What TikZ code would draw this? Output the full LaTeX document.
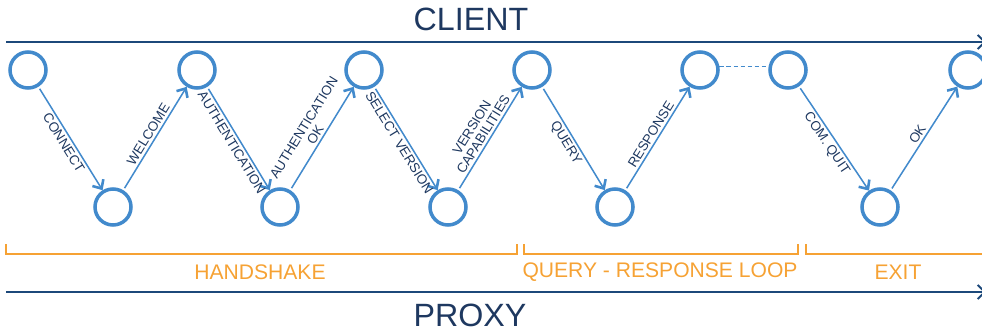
\documentclass[tikz,border=0pt]{standalone}
\usepackage{fontspec}
\setmainfont{Liberation Sans}
\usepackage{xcolor}
\usetikzlibrary{arrows.meta}
\definecolor{figline}{RGB}{28,72,122}
\definecolor{figtext}{RGB}{30,56,96}
\definecolor{figcirc}{RGB}{66,138,204}
\definecolor{figphase}{RGB}{246,162,52}
\tikzset{
  st/.style   ={circle, draw=figcirc, line width=3pt, minimum size=1.08cm, inner sep=0pt},
  msg/.style  ={draw=figcirc, line width=1.3pt, shorten <=2pt, -{Straight Barb[length=6pt,width=11pt,line width=2.2pt]}},
  lab/.style  ={font=\fontsize{11.5}{11.5}\selectfont, text=figtext, sloped, inner sep=2pt, align=center},
  axis/.style ={draw=figline, line width=1.6pt, -{Straight Barb[length=6pt,width=12pt]}},
  brk/.style  ={draw=figphase, line width=1.2pt},
  phase/.style={font=\fontsize{18}{20}\selectfont, text=figphase},
  side/.style ={font=\fontsize{27.5}{30}\selectfont, text=figtext},
  wait/.style ={draw=figcirc, line width=1.2pt, dash pattern=on 4pt off 2pt},
}
\begin{document}
\begin{tikzpicture}[x=0.03cm,y=0.03cm]
  \clip (0,0) rectangle (982,332);
  % client and proxy time lines
  \coordinate (ts) at (6,290);
  \coordinate (te) at (986,290);
  \coordinate (bs) at (6,40);
  \coordinate (be) at (986,40);
  \draw[axis] (ts) -- (te);
  \draw[axis] (bs) -- (be);
  \node[side] (client) at (471,313) {CLIENT};
  \node[side] (proxy) at (470,17) {PROXY};
  % states on the client side
  \node[st] (c1) at (28,262) {};
  \node[st] (c2) at (197,262) {};
  \node[st] (c3) at (364,262) {};
  \node[st] (c4) at (532,262) {};
  \node[st] (c5) at (700,262) {};
  \node[st] (c6) at (788,262) {};
  \node[st] (c7) at (968,262) {};
  % states on the proxy side
  \node[st] (p1) at (113,125) {};
  \node[st] (p2) at (280,125) {};
  \node[st] (p3) at (448,125) {};
  \node[st] (p4) at (615,125) {};
  \node[st] (p5) at (880,125) {};
  % messages
  \draw[msg] (c1) -- node[lab,below] {CONNECT} (p1);
  \draw[msg] (p1) -- node[lab,above] {WELCOME} (c2);
  \draw[msg] (c2) -- node[lab,below] {AUTHENTICATION} (p2);
  \draw[msg] (p2) -- node[lab,above] {AUTHENTICATION\\OK} (c3);
  \draw[msg] (c3) -- node[lab,below] {SELECT VERSION} (p3);
  \draw[msg] (p3) -- node[lab,above] {VERSION\\CAPABILITIES} (c4);
  \draw[msg] (c4) -- node[lab,below] {QUERY} (p4);
  \draw[msg] (p4) -- node[lab,above] {RESPONSE} (c5);
  \draw[wait] (c5.10) -- (c6.170);
  \draw[msg] (c6) -- node[lab,below] {COM. QUIT} (p5);
  \draw[msg] (p5) -- node[lab,above] {OK} (c7);
  % phases
  \draw[brk] (6,88) -- (6,78) -- (517,78) -- (517,88);
  \draw[brk] (524,88) -- (524,78) -- (798,78) -- (798,88);
  \draw[brk] (806,88) -- (806,78) -- (990,78);
  \node[phase] (hs) at (260,60) {HANDSHAKE};
  \node[phase] (qr) at (660,60) {QUERY - RESPONSE LOOP};
  \node[phase] (ex) at (898,60) {EXIT};
\end{tikzpicture}
\end{document}
